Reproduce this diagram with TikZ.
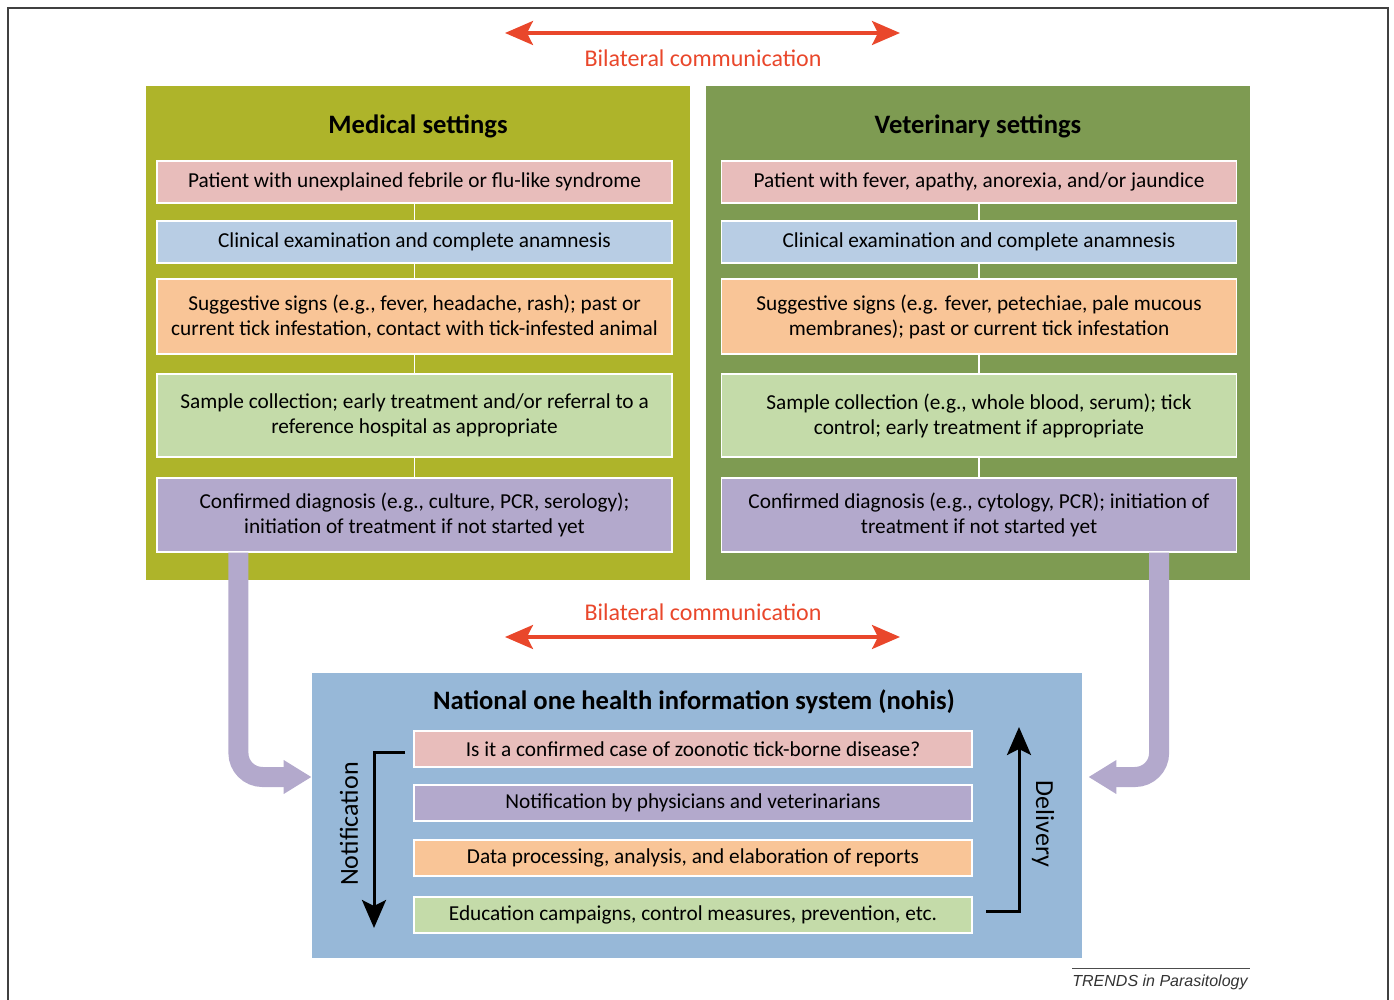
\documentclass[tikz,border=0pt]{standalone}
\usepackage{fontspec}
\setmainfont{Carlito}
\newfontfamily\trendsfont{Liberation Sans}
\usetikzlibrary{arrows.meta,calc,positioning}
\definecolor{medolive}{HTML}{AEB42A}
\definecolor{vetgreen}{HTML}{7E9B52}
\definecolor{rowpink}{HTML}{E8BDBB}
\definecolor{rowblue}{HTML}{B8CDE4}
\definecolor{roworange}{HTML}{F9C597}
\definecolor{rowgreen}{HTML}{C4DBA9}
\definecolor{rowlav}{HTML}{B3A9CC}
\definecolor{nohisblue}{HTML}{97B8D8}
\definecolor{commred}{HTML}{E9472B}

\begin{document}
\begin{tikzpicture}[x=0.5pt,y=-0.5pt]
\tikzset{
  stage/.style={draw=white, line width=0.6pt, minimum width=257.5pt, align=center, inner sep=2pt, font=\fontsize{10.65}{12.5}\selectfont},
  nstage/.style={stage, minimum width=279pt, minimum height=18pt},
  panel/.style={minimum width=272pt, minimum height=247pt, inner sep=0pt},
  heading/.style={font=\fontsize{13.3}{15}\selectfont\bfseries},
  link/.style={draw=white, line width=0.6pt},
  bilat/.style={draw=commred, line width=1.6pt, {Stealth[length=14pt,width=12pt,inset=3pt]}-{Stealth[length=14pt,width=12pt,inset=3pt]}},
  bilattext/.style={text=commred, font=\fontsize{12}{14}\selectfont},
  feed/.style={draw=rowlav, line width=10pt, rounded corners=12pt, -{Triangle[length=14pt,width=16pt]}},
  cycle/.style={draw=black, line width=1.5pt, -{Stealth[length=14pt,width=12pt,inset=3pt]}},
  cycletext/.style={font=\fontsize{13}{15}\selectfont}
}
\useasboundingbox (0,0) rectangle (1394,1000);
\draw[line width=1pt, black!75] (8,1000) -- (8,8) -- (1388,8) -- (1388,1000);

\coordinate (bl1) at (505,33);
\coordinate (br1) at (900,33);
\draw[bilat] (bl1) -- (br1);
\node[bilattext] (bt1) at (703,58) {Bilateral communication};

\node[panel, fill=medolive] (med) at (418,333) {};
\node[panel, fill=vetgreen] (vet) at (978,333) {};
\node[heading] (medt) at (418,126) {Medical settings};
\node[heading] (vett) at (978,126) {Veterinary settings};

\node[stage, fill=rowpink, minimum height=21pt] (m1) at (414.5,182) {Patient with unexplained febrile or flu-like syndrome};
\node[stage, fill=rowblue, minimum height=21pt] (m2) at (414.5,242) {Clinical examination and complete anamnesis};
\node[stage, fill=roworange, minimum height=37.5pt] (m3) at (414.5,316.5) {Suggestive signs (e.g., fever, headache, rash); past or\\current tick infestation, contact with tick-infested animal};
\node[stage, fill=rowgreen, minimum height=41.5pt] (m4) at (414.5,415.5) {Sample collection; early treatment and/or referral to a\\reference hospital as appropriate};
\node[stage, fill=rowlav, minimum height=37pt] (m5) at (414.5,515) {Confirmed diagnosis (e.g., culture, PCR, serology);\\initiation of treatment if not started yet};

\node[stage, fill=rowpink, minimum height=21pt] (v1) at (979,182) {Patient with fever, apathy, anorexia, and/or jaundice};
\node[stage, fill=rowblue, minimum height=21pt] (v2) at (979,242) {Clinical examination and complete anamnesis};
\node[stage, fill=roworange, minimum height=37.5pt] (v3) at (979,316.5) {Suggestive signs (e.g. fever, petechiae, pale mucous\\membranes); past or current tick infestation};
\node[stage, fill=rowgreen, minimum height=41.5pt] (v4) at (979,415.5) {Sample collection (e.g., whole blood, serum); tick\\control; early treatment if appropriate};
\node[stage, fill=rowlav, minimum height=37pt] (v5) at (979,515) {Confirmed diagnosis (e.g., cytology, PCR); initiation of\\treatment if not started yet};

\foreach \a/\b in {m1/m2,m2/m3,m3/m4,m4/m5,v1/v2,v2/v3,v3/v4,v4/v5}
  \draw[link] (\a.south) -- (\b.north);

\node[bilattext] (bt2) at (703,612) {Bilateral communication};
\coordinate (bl2) at (505,637);
\coordinate (br2) at (900,637);
\draw[bilat] (bl2) -- (br2);

\node[fill=nohisblue, minimum width=385pt, minimum height=142.5pt, inner sep=0pt] (nohis) at (697,815.5) {};
\node[heading] (nohist) at (694,702) {National one health information system (nohis)};
\node[nstage, fill=rowpink] (n1) at (693,749) {Is it a confirmed case of zoonotic tick-borne disease?};
\node[nstage, fill=rowlav] (n2) at (693,803) {Notification by physicians and veterinarians};
\node[nstage, fill=roworange] (n3) at (693,858) {Data processing, analysis, and elaboration of reports};
\node[nstage, fill=rowgreen] (n4) at (693,915) {Education campaigns, control measures, prevention, etc.};

\coordinate (la) at ($(m5.south west)+(82,0)$);
\coordinate (lt) at ($(nohis.west)+(0,-38.5)$);
\draw[feed] (la) |- (lt);
\coordinate (ra) at ($(v5.south east)+(-78,0)$);
\coordinate (rt) at ($(nohis.east)+(6,-38.5)$);
\draw[feed] (ra) |- (rt);

\coordinate (nt) at (405,752);
\coordinate (nb) at (374,928);
\draw[cycle] (nt) -| (nb);
\node[cycletext, rotate=90] (notif) at (349,824) {Notification};
\coordinate (db) at (986,911);
\coordinate (dt) at (1019,727);
\draw[cycle] (db) -| (dt);
\node[cycletext, rotate=-90] (deliv) at (1043,824) {Delivery};

\node[font=\trendsfont\itshape\fontsize{8}{10}\selectfont, text=black!80, inner sep=0pt, anchor=west] (trends) at (1072,982) {TRENDS in Parasitology};
\draw[black!70, line width=0.5pt] ([yshift=3pt]trends.north west) -- ([yshift=3pt,xshift=1pt]trends.north east);
\end{tikzpicture}
\end{document}
